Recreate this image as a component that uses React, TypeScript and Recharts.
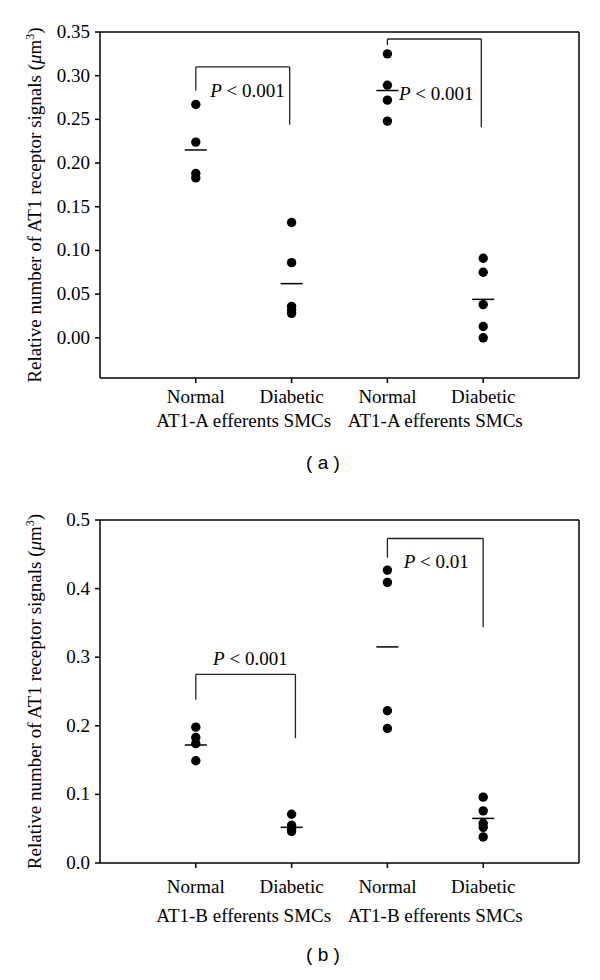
import React from 'react';
import {
  ComposedChart, Scatter, XAxis, YAxis, ReferenceLine, ReferenceDot,
} from 'recharts';

const FONT = '"Liberation Serif", "Times New Roman", serif';

// x positions 1..4 on a 0..5 axis
const CATEGORIES = ['Normal', 'Diabetic', 'Normal', 'Diabetic'];
const GROUP_X = [1.5, 3.5];

// panel (a) – AT1-A
const A_NORMAL_1 = [0.267, 0.224, 0.188, 0.183];
const A_DIABETIC_1 = [0.132, 0.086, 0.036, 0.032, 0.028];
const A_NORMAL_2 = [0.325, 0.289, 0.272, 0.248];
const A_DIABETIC_2 = [0.091, 0.075, 0.038, 0.013, 0.0];
const A_MEANS = [0.215, 0.062, 0.283, 0.044];
const A_TICKS = [0, 0.05, 0.1, 0.15, 0.2, 0.25, 0.3, 0.35];
const A_GROUP = 'AT1-A efferents SMCs';

// panel (b) – AT1-B
const B_NORMAL_1 = [0.198, 0.183, 0.174, 0.149];
const B_DIABETIC_1 = [0.071, 0.055, 0.05, 0.046];
const B_NORMAL_2 = [0.427, 0.409, 0.222, 0.196];
const B_DIABETIC_2 = [0.096, 0.076, 0.058, 0.052, 0.038];
const B_MEANS = [0.172, 0.052, 0.315, 0.065];
const B_TICKS = [0, 0.1, 0.2, 0.3, 0.4, 0.5];
const B_GROUP = 'AT1-B efferents SMCs';

// significance brackets: left leg x, right leg x, top, left-leg end, right-leg end
const A_BRACKETS = [
  { x1: 1, x2: 1.98, top: 0.31, left: 0.283, right: 0.244 },
  { x1: 3, x2: 3.98, top: 0.342, left: 0.335, right: 0.241 },
];
const B_BRACKETS = [
  { x1: 1, x2: 2.04, top: 0.275, left: 0.238, right: 0.182 },
  { x1: 3, x2: 4.0, top: 0.473, left: 0.445, right: 0.344 },
];
const A_NOTES = [
  { x: 1.54, y: 0.282, p: '0.001' },
  { x: 3.51, y: 0.279, p: '0.001' },
];
const B_NOTES = [
  { x: 1.57, y: 0.298, p: '0.001' },
  { x: 3.51, y: 0.439, p: '0.01' },
];

const toPoints = (groups: number[][]) =>
  groups.flatMap((vals, i) => vals.map((v) => ({ x: i + 1, y: v })));
const toMeans = (means: number[]) => means.map((v, i) => ({ x: i + 1, y: v }));

const YLabel = ({ viewBox }: any) => {
  const x = 41;
  const y = viewBox.y + viewBox.height / 2;
  return (
    <text
      x={x}
      y={y}
      transform={`rotate(-90 ${x} ${y})`}
      textAnchor="middle"
      fontFamily={FONT}
      fontSize={19}
      fill="#000"
    >
      Relative number of AT1 receptor signals (<tspan fontStyle="italic">μ</tspan>m
      <tspan dy={-7} fontSize={12}>3</tspan>
      <tspan dy={7}>)</tspan>
    </text>
  );
};

const XTick = ({ x, y, payload, dy }: any) => (
  <text x={x} y={y + dy} textAnchor="middle" fontFamily={FONT} fontSize={19} fill="#000">
    {CATEGORIES[payload.value - 1]}
  </text>
);

const YTick = ({ x, y, payload, decimals }: any) => (
  <text x={x} y={y + 6} textAnchor="end" fontFamily={FONT} fontSize={19} fill="#000">
    {Number(payload.value).toFixed(decimals)}
  </text>
);

interface PanelProps {
  groups: number[][];
  means: number[];
  ticks: number[];
  domain: [number, number];
  decimals: number;
  group: string;
  brackets: typeof A_BRACKETS;
  notes: typeof A_NOTES;
  margin: { top: number; right: number; bottom: number; left: number };
  catDy: number;
  grpDy: number;
}

function Panel(props: PanelProps) {
  const { groups, means, ticks, domain, decimals, group, brackets, notes, margin } = props;
  const seg = { stroke: '#222', strokeWidth: 1.3, ifOverflow: 'visible' as const };
  return (
    <ComposedChart width={600} height={490} margin={margin}>
      <XAxis
        type="number"
        dataKey="x"
        domain={[0, 5]}
        ticks={[1, 2, 3, 4]}
        interval={0}
        allowDataOverflow
        tick={<XTick dy={props.catDy} />}
        tickSize={5}
        stroke="#000"
        strokeWidth={1.5}
        height={70}
      />
      <YAxis
        type="number"
        dataKey="y"
        domain={domain}
        ticks={ticks}
        interval={0}
        allowDataOverflow
        tick={<YTick decimals={decimals} />}
        tickSize={5}
        tickMargin={5}
        stroke="#000"
        strokeWidth={1.5}
        width={60}
        label={<YLabel />}
      />
      {/* top and right edges of the frame */}
      <ReferenceLine y={domain[1]} stroke="#000" strokeWidth={1.5} ifOverflow="visible" />
      <ReferenceLine x={5} stroke="#000" strokeWidth={1.5} ifOverflow="visible" />
      {brackets.flatMap((b, i) => [
        <ReferenceLine key={`l${i}`} segment={[{ x: b.x1, y: b.left }, { x: b.x1, y: b.top }]} {...seg} />,
        <ReferenceLine key={`t${i}`} segment={[{ x: b.x1, y: b.top }, { x: b.x2, y: b.top }]} {...seg} />,
        <ReferenceLine key={`r${i}`} segment={[{ x: b.x2, y: b.top }, { x: b.x2, y: b.right }]} {...seg} />,
      ])}
      {notes.map((n, i) => (
        <ReferenceDot
          key={`n${i}`}
          x={n.x}
          y={n.y}
          r={0}
          ifOverflow="visible"
          shape={(p: any) => (
            <text x={p.cx} y={p.cy + 6} textAnchor="middle" fontFamily={FONT} fontSize={19} fill="#000">
              <tspan fontStyle="italic">P</tspan> &lt; {n.p}
            </text>
          )}
        />
      ))}
      {GROUP_X.map((gx) => (
        <ReferenceDot
          key={`g${gx}`}
          x={gx}
          y={domain[0]}
          r={0}
          ifOverflow="visible"
          shape={(p: any) => (
            <text x={p.cx} y={p.cy + props.grpDy} textAnchor="middle" fontFamily={FONT} fontSize={19} fill="#000">
              {group}
            </text>
          )}
        />
      ))}
      <Scatter
        data={toPoints(groups)}
        dataKey="y"
        isAnimationActive={false}
        shape={(p: any) => <circle cx={p.cx} cy={p.cy} r={4.7} fill="#000" />}
      />
      <Scatter
        data={toMeans(means)}
        dataKey="y"
        isAnimationActive={false}
        shape={(p: any) => (
          <line x1={p.cx - 11} x2={p.cx + 11} y1={p.cy} y2={p.cy} stroke="#000" strokeWidth={1.5} />
        )}
      />
    </ComposedChart>
  );
}

const captionStyle: React.CSSProperties = {
  position: 'absolute',
  left: 273,
  width: 100,
  textAlign: 'center',
  fontFamily: '"Liberation Sans", Arial, sans-serif',
  fontSize: 19,
  lineHeight: '22px',
  color: '#000',
};

export default function App() {
  return (
    <div style={{ position: 'absolute', left: 0, top: 0, width: 600, height: 980, background: '#fff' }}>
      <div style={{ position: 'absolute', left: 0, top: 0 }}>
        <Panel
          groups={[A_NORMAL_1, A_DIABETIC_1, A_NORMAL_2, A_DIABETIC_2]}
          means={A_MEANS}
          ticks={A_TICKS}
          domain={[-0.046, 0.35]}
          decimals={2}
          group={A_GROUP}
          brackets={A_BRACKETS}
          notes={A_NOTES}
          margin={{ top: 32, right: 21, bottom: 42, left: 40 }}
          catDy={18}
          grpDy={49}
        />
      </div>
      <div style={{ ...captionStyle, top: 452 }}>( a )</div>
      <div style={{ position: 'absolute', left: 0, top: 490 }}>
        <Panel
          groups={[B_NORMAL_1, B_DIABETIC_1, B_NORMAL_2, B_DIABETIC_2]}
          means={B_MEANS}
          ticks={B_TICKS}
          domain={[0, 0.5]}
          decimals={1}
          group={B_GROUP}
          brackets={B_BRACKETS}
          notes={B_NOTES}
          margin={{ top: 30, right: 21, bottom: 47, left: 40 }}
          catDy={23}
          grpDy={59}
        />
      </div>
      <div style={{ ...captionStyle, top: 944 }}>( b )</div>
    </div>
  );
}
